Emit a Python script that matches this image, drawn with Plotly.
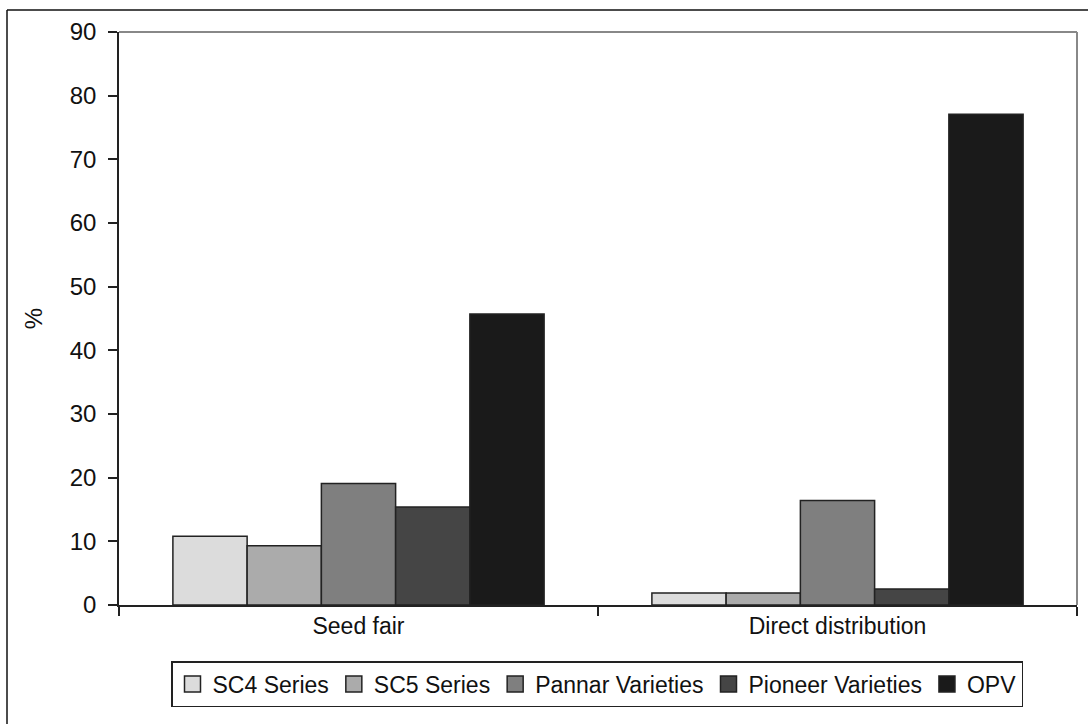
import plotly.graph_objects as go

categories = ["Seed fair", "Direct distribution"]
series_names = ["SC4 Series", "SC5 Series", "Pannar Varieties", "Pioneer Varieties", "OPV"]
sc4 = [10.8, 1.9]
sc5 = [9.3, 1.9]
pannar = [19.1, 16.4]
pioneer = [15.4, 2.5]
opv = [45.7, 77.1]
y_ticks = [0, 10, 20, 30, 40, 50, 60, 70, 80, 90]

series_values = [sc4, sc5, pannar, pioneer, opv]
colors = ["#dcdcdc", "#ababab", "#7f7f7f", "#454545", "#1a1a1a"]

FONT = "Liberation Sans, Arial, sans-serif"

fig = go.Figure()
for name, vals, col in zip(series_names, series_values, colors):
    fig.add_trace(go.Bar(
        name=name, x=categories, y=vals, showlegend=False, legendgroup=name,
        marker=dict(color=col, line=dict(color="#222222", width=1.5)),
    ))
# legend entries with larger square swatches
for name, col in zip(series_names, colors):
    fig.add_trace(go.Scatter(
        name=name, x=[None], y=[None], mode="markers", legendgroup=name,
        marker=dict(symbol="square", size=16, color=col, line=dict(color="#222222", width=1.5)),
    ))

L, R, T, B = 119, 11, 32, 119
W, H = 1088, 724
pw, ph = W - L - R, H - T - B

fig.update_layout(
    width=W, height=H,
    margin=dict(l=L, r=R, t=T, b=B, pad=0),
    paper_bgcolor="white", plot_bgcolor="white",
    barmode="group", bargap=0.225, bargroupgap=0,
    font=dict(family=FONT, color="#111111", size=22),
    showlegend=True,
    legend=dict(
        orientation="h", x=(597 - L) / pw, xanchor="center",
        y=(H - B - 661) / ph, yanchor="top",
        bordercolor="#222222", borderwidth=1.5,
        font=dict(size=23, family=FONT, color="#111111"),
        bgcolor="white", traceorder="normal",
    ),
    xaxis=dict(
        showline=True, linecolor="#222222", linewidth=1.5,
        ticks="outside", tickson="boundaries", ticklen=9, tickcolor="#222222", tickwidth=1.5,
        tickfont=dict(size=23), showgrid=False, zeroline=False,
    ),
    yaxis=dict(
        range=[0, 90], tickvals=y_ticks, showline=True, linecolor="#222222", linewidth=1.5,
        ticks="outside", ticklen=9, tickcolor="#222222", tickwidth=1.5,
        tickfont=dict(size=24), showgrid=False, zeroline=False,
        ticklabelstandoff=7,
        title=dict(text="%", font=dict(size=24), standoff=20),
    ),
    shapes=[
        # gray top and right frame of plot area
        dict(type="line", xref="paper", yref="paper", x0=0, x1=1, y0=1, y1=1,
             line=dict(color="#888888", width=2)),
        dict(type="line", xref="paper", yref="paper", x0=1, x1=1, y0=0, y1=1,
             line=dict(color="#888888", width=2)),
        # outer frame (left and top visible)
        dict(type="line", xref="paper", yref="paper",
             x0=(7 - L) / pw, x1=(7 - L) / pw, y0=(H - B - 740) / ph, y1=(H - B - 10) / ph,
             line=dict(color="#111111", width=1.5)),
        dict(type="line", xref="paper", yref="paper",
             x0=(7 - L) / pw, x1=(1100 - L) / pw, y0=(H - B - 10) / ph, y1=(H - B - 10) / ph,
             line=dict(color="#111111", width=1.5)),
    ],
)

fig.write_html("out.html")
